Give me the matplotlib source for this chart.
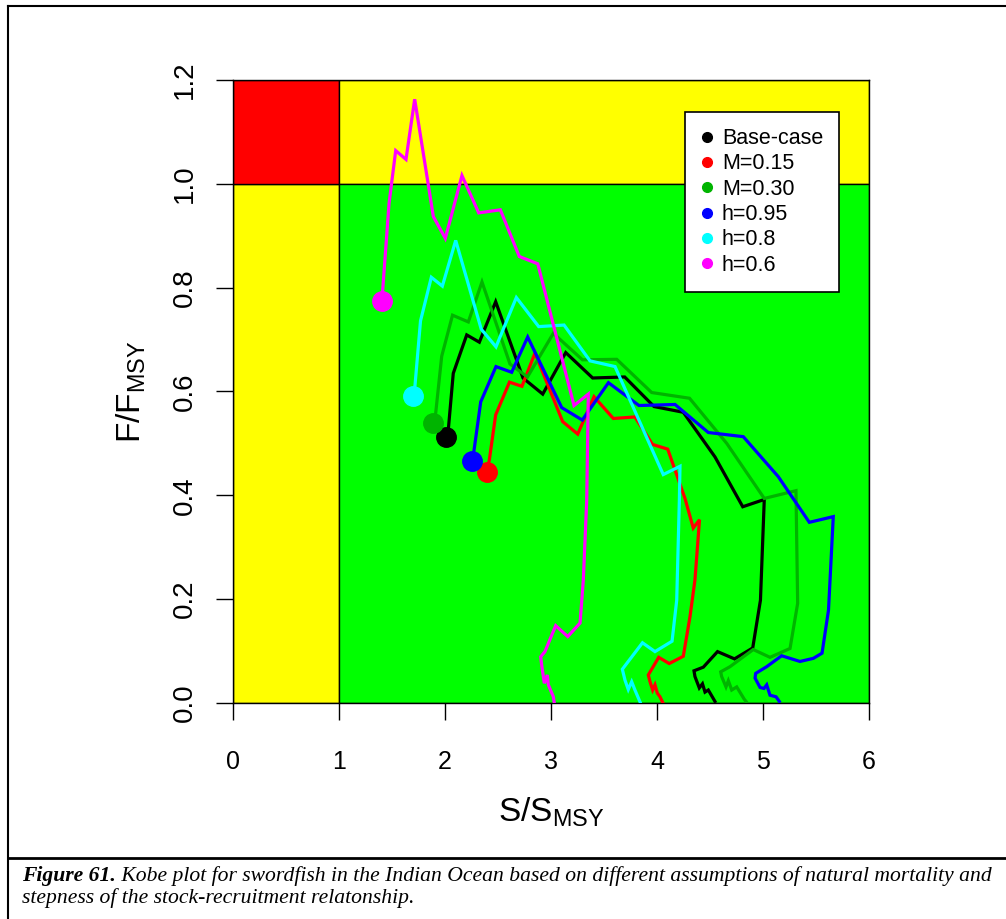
import numpy as np
import matplotlib.pyplot as plt
from matplotlib.lines import Line2D
from matplotlib.patches import Rectangle

plt.rcParams['font.family'] = ['Liberation Sans', 'DejaVu Sans']

labels = ['Base-case', 'M=0.15', 'M=0.30', 'h=0.95', 'h=0.8', 'h=0.6']
colors = ['black', 'red', '#00B400', 'blue', 'cyan', 'magenta']

# trajectories, oldest year first, last point is the current status
base_s = [4.547, 4.484, 4.453, 4.429, 4.399, 4.358, 4.349, 4.437, 4.571, 4.731, 4.903, 4.956, 4.976, 5.012,
          4.809, 4.547, 4.248, 3.972, 3.695, 3.393, 3.139, 2.922, 2.736, 2.478, 2.324, 2.205, 2.078, 2.031, 2.006]
base_f = [0.003, 0.025, 0.021, 0.037, 0.029, 0.051, 0.062, 0.069, 0.099, 0.085, 0.106, 0.173, 0.198, 0.392,
          0.378, 0.474, 0.560, 0.571, 0.628, 0.626, 0.675, 0.595, 0.626, 0.773, 0.695, 0.709, 0.635, 0.526, 0.512]

m015_s = [4.054, 4.028, 4.003, 3.981, 3.959, 3.934, 3.918, 4.016, 4.115, 4.248, 4.311, 4.358, 4.401, 4.342,
          4.264, 4.101, 3.958, 3.792, 3.588, 3.406, 3.252, 3.110, 2.849, 2.726, 2.608, 2.478, 2.418, 2.393]
m015_f = [0.001, 0.012, 0.019, 0.035, 0.025, 0.041, 0.054, 0.088, 0.076, 0.090, 0.166, 0.237, 0.353, 0.337,
          0.394, 0.489, 0.498, 0.551, 0.548, 0.590, 0.518, 0.542, 0.674, 0.610, 0.618, 0.555, 0.468, 0.445]

m030_s = [4.840, 4.824, 4.752, 4.705, 4.673, 4.651, 4.610, 4.601, 4.689, 4.908, 5.066, 5.255, 5.327, 5.311,
          5.012, 4.658, 4.307, 3.950, 3.620, 3.297, 3.022, 2.778, 2.613, 2.349, 2.220, 2.071, 1.969, 1.912, 1.890]
m030_f = [0.003, 0.007, 0.031, 0.025, 0.043, 0.031, 0.051, 0.060, 0.070, 0.103, 0.088, 0.105, 0.192, 0.409,
          0.394, 0.500, 0.587, 0.598, 0.662, 0.661, 0.712, 0.628, 0.653, 0.811, 0.734, 0.747, 0.668, 0.558, 0.540]

h095_s = [5.154, 5.123, 5.066, 5.035, 5.009, 4.972, 4.925, 4.931, 5.035, 5.176, 5.349, 5.475, 5.557, 5.618, 5.663,
          5.437, 5.144, 4.814, 4.484, 4.170, 3.830, 3.542, 3.295, 3.101, 2.780, 2.629, 2.481, 2.337, 2.274, 2.258]
h095_f = [0.003, 0.012, 0.015, 0.035, 0.028, 0.030, 0.048, 0.057, 0.070, 0.091, 0.080, 0.086, 0.096, 0.179, 0.359,
          0.348, 0.436, 0.513, 0.521, 0.575, 0.573, 0.617, 0.545, 0.569, 0.705, 0.637, 0.648, 0.580, 0.487, 0.467]

h08_s = [3.840, 3.792, 3.761, 3.729, 3.698, 3.673, 3.863, 3.981, 4.142, 4.186, 4.211, 4.217, 4.059,
         3.604, 3.368, 3.123, 2.884, 2.673, 2.481, 2.342, 2.101, 1.975, 1.871, 1.769, 1.717, 1.701]
h08_f = [0.002, 0.025, 0.041, 0.026, 0.044, 0.065, 0.116, 0.099, 0.119, 0.198, 0.391, 0.456, 0.440,
         0.648, 0.659, 0.728, 0.725, 0.781, 0.686, 0.720, 0.891, 0.803, 0.820, 0.736, 0.612, 0.592]

h06_s = [3.031, 3.022, 2.975, 2.965, 2.937, 2.912, 2.903, 2.943, 3.044, 3.158, 3.274, 3.305, 3.337, 3.352,
         3.217, 2.875, 2.701, 2.522, 2.318, 2.160, 2.003, 1.890, 1.714, 1.632, 1.535, 1.472, 1.412, 1.408]
h06_f = [0.000, 0.012, 0.035, 0.054, 0.038, 0.073, 0.089, 0.099, 0.149, 0.128, 0.154, 0.237, 0.391, 0.595,
         0.573, 0.846, 0.860, 0.950, 0.944, 1.016, 0.895, 0.937, 1.163, 1.047, 1.064, 0.962, 0.795, 0.775]

runs = [(base_s, base_f), (m015_s, m015_f), (m030_s, m030_f),
        (h095_s, h095_f), (h08_s, h08_f), (h06_s, h06_f)]

xticks = [0, 1, 2, 3, 4, 5, 6]
yticks = [0.0, 0.2, 0.4, 0.6, 0.8, 1.0, 1.2]

caption_bold = 'Figure 61.'
caption_1 = ' Kobe plot for swordfish in the Indian Ocean based on different assumptions of natural mortality and'
caption_2 = 'stepness of the stock-recruitment relatonship.'

W, H = 1006, 919
fig = plt.figure(figsize=(W / 100, H / 100), dpi=100)
ax = fig.add_axes([233 / W, 1 - 703 / H, 636 / W, 623 / H])

# kobe quadrants
ax.add_patch(Rectangle((0, 0), 1, 1, fc='yellow', ec='black', lw=1))
ax.add_patch(Rectangle((0, 1), 1, 0.2, fc='red', ec='black', lw=1))
ax.add_patch(Rectangle((1, 1), 5, 0.2, fc='yellow', ec='black', lw=1))
ax.add_patch(Rectangle((1, 0), 5, 1, fc='#00FF00', ec='black', lw=1))

for (s, f), c in zip(runs, colors):
    ax.plot(s, f, color=c, lw=2.3, solid_joinstyle='miter', zorder=3)
for (s, f), c in zip(runs, colors):
    ax.plot(s[-1], f[-1], 'o', color=c, ms=14, zorder=4)

ax.set_xlim(0, 6)
ax.set_ylim(0, 1.2)
ax.set_xticks(xticks)
ax.set_xticklabels([str(v) for v in xticks])
ax.set_yticks(yticks)
ax.set_yticklabels(['%.1f' % v for v in yticks], rotation=90, va='center')
ax.tick_params(axis='both', direction='out', length=12, width=1, labelsize=18)
ax.tick_params(axis='y', labelsize=20, pad=13)
ax.tick_params(axis='x', pad=22)
for sp in ax.spines.values():
    sp.set_linewidth(1)

ax.set_xlabel(r'$\mathregular{S/S_{MSY}}$', fontsize=24)
ax.set_ylabel(r'$\mathregular{F/F_{MSY}}$', fontsize=24)
ax.xaxis.set_label_coords(0.5, -0.175)
ax.xaxis.label.set_va('center')
ax.yaxis.set_label_coords(-0.160, 0.5)
ax.yaxis.label.set_va('center')

handles = [Line2D([], [], ls='none', marker='o', color=c, ms=7) for c in colors]
leg = ax.legend(handles, labels, loc='upper left', bbox_to_anchor=(0.711, 0.9486), borderaxespad=0,
                fancybox=False, edgecolor='black', framealpha=1, fontsize=15.5,
                handlelength=0.5, handletextpad=0.45, labelspacing=0.2, borderpad=0.75)
leg.get_frame().set_linewidth(1.2)

# figure frame and caption
fig.add_artist(Line2D([8 / W, 8 / W], [0, 1 - 6 / H], transform=fig.transFigure, color='black', lw=1.5))
fig.add_artist(Line2D([8 / W, 1], [1 - 6 / H, 1 - 6 / H], transform=fig.transFigure, color='black', lw=1.5))
fig.add_artist(Line2D([8 / W, 1], [1 - 858 / H, 1 - 858 / H], transform=fig.transFigure, color='black', lw=2))

cap_size = 15.6
t1 = fig.text(22 / W, 1 - 881 / H, caption_bold, family='Liberation Serif', style='italic', weight='bold',
              fontsize=cap_size, va='baseline')
ax.annotate(caption_1, xy=(1, 0), xycoords=t1, va='bottom', ha='left', family='Liberation Serif',
            style='italic', fontsize=cap_size)
fig.text(22 / W, 1 - 903 / H, caption_2, family='Liberation Serif', style='italic', fontsize=cap_size,
         va='baseline')

fig.savefig('out.png', dpi=100)
